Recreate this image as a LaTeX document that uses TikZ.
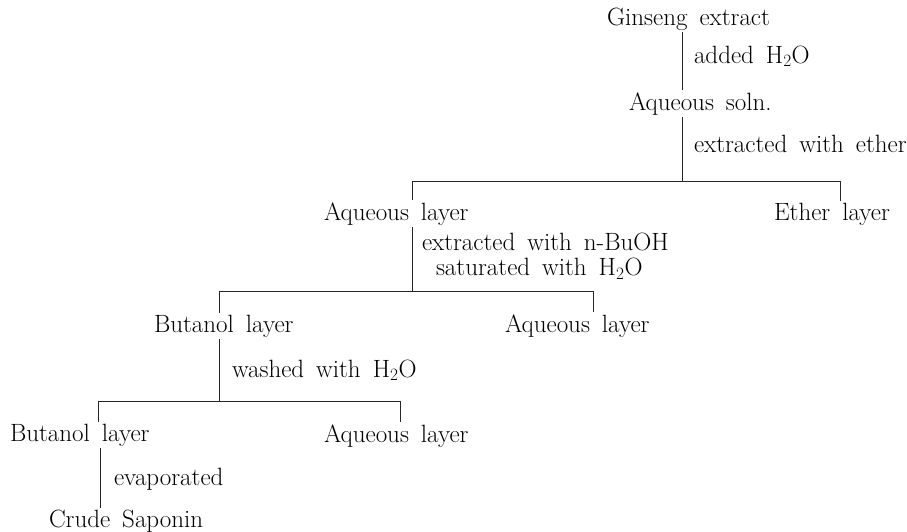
\documentclass[tikz,border=0pt]{standalone}
\begin{document}
\begin{tikzpicture}[x=1pt,y=-1pt,
  lbl/.style={inner sep=0pt, outer sep=2pt, anchor=base west, font={\fontsize{25}{30}\selectfont\spaceskip=0.48em\relax}},
  ln/.style={line width=1pt, draw=black!85}]
\useasboundingbox (0,0) rectangle (907,531);
% texts
\node[lbl] (gin) at (605,25) {Ginseng extract};
\node[lbl] (t1) at (692,63) {added H$_2$O};
\node[lbl] (aqs) at (627,110) {Aqueous soln.};
\node[lbl] (t2) at (692,152) {extracted with ether};
\node[lbl] (aq1) at (322,220) {Aqueous layer};
\node[lbl] (eth) at (772,220) {Ether layer};
\node[lbl, anchor=north west, outer sep=0pt, align=left,
  font={\fontsize{25}{25.5}\selectfont\spaceskip=0.48em\relax}] (t3) at (422,232.6)
  {extracted with n-BuOH\\\hspace*{14pt}saturated with H$_2$O};
\node[lbl] (bu1) at (152,332) {Butanol layer};
\node[lbl] (aq2) at (503,332) {Aqueous layer};
\node[lbl] (t4) at (230,377) {washed with H$_2$O};
\node[lbl] (bu2) at (8,441) {Butanol layer};
\node[lbl] (aq3) at (322,442) {Aqueous layer};
\node[lbl] (t5) at (112,485) {evaporated};
\node[lbl] (cs) at (47,527) {Crude Saponin};
% branch points
\coordinate (v0) at (682,0);
\coordinate (b1) at (682,181);
\coordinate (b1l) at (412,181);
\coordinate (b1r) at (840,181);
\coordinate (b2) at (412,291);
\coordinate (b2l) at (219,291);
\coordinate (b2r) at (593,291);
\coordinate (b3) at (219,401);
\coordinate (b3l) at (98,401);
\coordinate (b3r) at (400,401);
\coordinate (v4) at (100,0);
% connectors
\draw[ln] (gin.south -| v0) -- (aqs.north -| v0);
\draw[ln] (aqs.south -| b1) -- (b1);
\draw[ln] (b1l) -- (b1r);
\draw[ln] (b1l) -- (aq1.north -| b1l);
\draw[ln] (b1r) -- (eth.north -| b1r);
\draw[ln] (aq1.south -| b2) -- (b2);
\draw[ln] (b2l) -- (b2r);
\draw[ln] (b2l) -- (bu1.north -| b2l);
\draw[ln] (b2r) -- (aq2.north -| b2r);
\draw[ln] (bu1.south -| b3) -- (b3);
\draw[ln] (b3l) -- (b3r);
\draw[ln] (b3l) -- (bu2.north -| b3l);
\draw[ln] (b3r) -- (aq3.north -| b3r);
\draw[ln] (bu2.south -| v4) -- (cs.north -| v4);
\end{tikzpicture}
\end{document}
